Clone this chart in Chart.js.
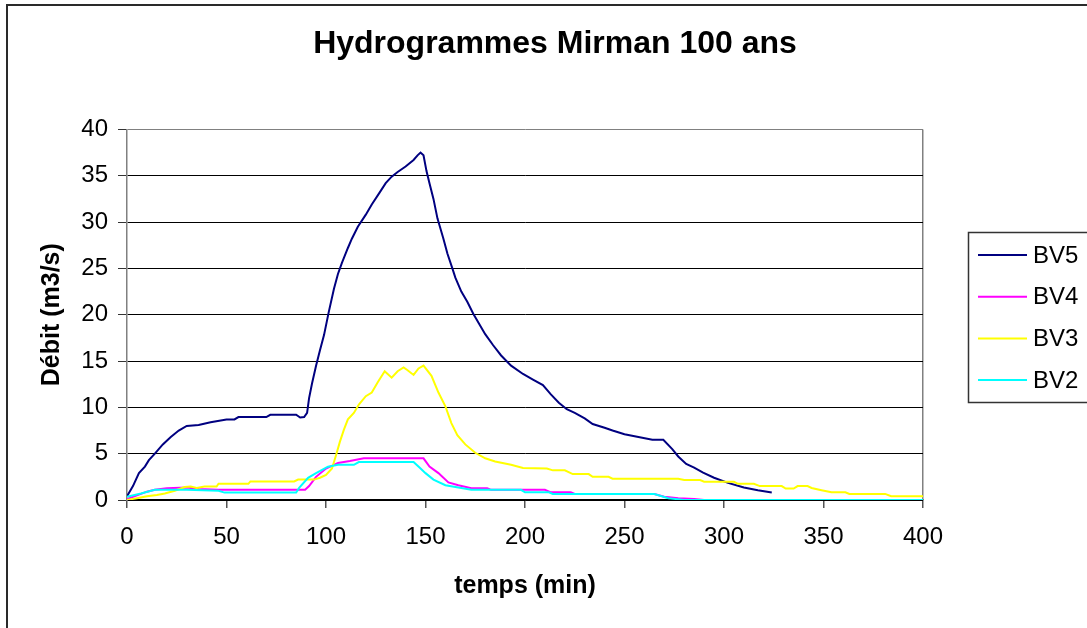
<!DOCTYPE html>
<html>
<head>
<meta charset="utf-8">
<script src="https://cdn.jsdelivr.net/npm/chart.js@4/dist/chart.umd.min.js"></script>
<style>
  html, body { margin: 0; padding: 0; background: #fff; }
  #wrap { width: 1087px; height: 628px; position: relative; }
</style>
</head>
<body>
<div id="wrap"><canvas id="hydro"></canvas></div>
<script>
// temps (min) et débits (m3/s)
const bv5T = [0, 3, 6, 9, 11, 14, 18, 22, 26, 30, 36, 42, 50, 54, 56, 70, 72, 85, 87, 89, 90.5, 91.5, 93, 95, 97, 99, 101.4, 104, 106, 108, 111, 113, 116, 120, 123, 127, 130, 133, 136, 140, 144, 146, 147.5, 149, 150.5, 152, 154, 156, 159, 161, 163.5, 165, 168, 171, 174, 177, 180, 184, 188, 193, 199, 204, 209, 213, 217, 221, 225, 230, 234, 240, 244, 250, 257, 264, 269.5, 274, 277, 281, 285, 289.5, 295, 302, 310, 317, 324];
const bv5Q = [0.4, 1.5, 2.9, 3.6, 4.3, 5.0, 6.0, 6.8, 7.5, 8.0, 8.1, 8.4, 8.7, 8.7, 8.95, 8.95, 9.2, 9.2, 8.9, 8.95, 9.4, 11.0, 12.6, 14.5, 16.2, 17.8, 20.3, 22.8, 24.4, 25.6, 27.2, 28.2, 29.5, 30.8, 31.9, 33.2, 34.2, 34.9, 35.4, 36.0, 36.7, 37.2, 37.5, 37.2, 35.5, 34.2, 32.5, 30.4, 28.2, 26.6, 25.0, 24.0, 22.5, 21.4, 20.1, 19.0, 17.9, 16.7, 15.6, 14.5, 13.6, 13.0, 12.4, 11.4, 10.5, 9.8, 9.4, 8.8, 8.2, 7.8, 7.5, 7.1, 6.8, 6.5, 6.5, 5.5, 4.7, 3.9, 3.5, 2.95, 2.4, 1.85, 1.35, 1.05, 0.8];

const bv4T = [0, 5, 10, 14, 20, 30, 36, 46, 89.5, 91.5, 95, 100, 106, 112, 119, 149, 152, 156.5, 161.5, 166.5, 173, 181, 183, 210, 213, 223, 225, 265, 270, 277, 285, 290, 400];
const bv4Q = [0.1, 0.5, 0.9, 1.1, 1.27, 1.35, 1.2, 1.1, 1.1, 1.5, 2.5, 3.4, 4.0, 4.2, 4.5, 4.5, 3.6, 2.9, 1.9, 1.6, 1.27, 1.27, 1.1, 1.1, 0.83, 0.83, 0.65, 0.65, 0.36, 0.2, 0.1, 0, 0];

const bv3T = [0, 5, 10, 15, 19, 24, 29, 32, 35, 39, 45, 46, 61, 62, 84, 86, 94, 97, 100, 103, 105, 107, 109, 111, 114, 116.5, 120, 123, 126, 129.5, 133, 136, 139, 141, 144, 146.5, 149, 153, 156.5, 160, 163, 166, 170, 175, 180, 185, 193, 199, 211, 214, 220, 224, 232, 234, 242, 244, 277, 280, 288, 290, 305, 307, 315, 318, 329, 331, 335, 337, 342, 344, 349, 354, 361, 363, 381, 384, 400];
const bv3Q = [0, 0.2, 0.4, 0.55, 0.7, 1.0, 1.4, 1.45, 1.3, 1.45, 1.45, 1.75, 1.75, 2.0, 2.0, 2.2, 2.2, 2.4, 2.7, 3.4, 4.8, 6.3, 7.6, 8.7, 9.4, 10.3, 11.2, 11.6, 12.7, 13.9, 13.2, 13.9, 14.3, 14.0, 13.5, 14.2, 14.5, 13.4, 11.6, 10.1, 8.3, 7.0, 6.0, 5.1, 4.5, 4.15, 3.8, 3.45, 3.4, 3.2, 3.2, 2.8, 2.8, 2.5, 2.5, 2.3, 2.3, 2.15, 2.15, 1.97, 1.97, 1.75, 1.75, 1.5, 1.5, 1.24, 1.24, 1.5, 1.5, 1.3, 1.06, 0.84, 0.84, 0.66, 0.66, 0.4, 0.4];

const bv2T = [0, 7, 14, 30, 46, 49, 85, 86.5, 91, 95, 101, 106, 114, 116.5, 144, 147, 150, 154, 160, 166.5, 173, 198, 200, 212, 214, 265, 272, 280, 400];
const bv2Q = [0.35, 0.7, 1.1, 1.1, 1.0, 0.8, 0.8, 1.3, 2.4, 2.9, 3.6, 3.8, 3.8, 4.1, 4.1, 3.5, 2.9, 2.2, 1.6, 1.35, 1.1, 1.1, 0.83, 0.83, 0.65, 0.65, 0.2, 0, 0];

const seriesNames = ['BV5', 'BV4', 'BV3', 'BV2'];
const seriesColors = ['#000080', '#FF00FF', '#FFFF00', '#00FFFF'];

function toPoints(ts, qs) {
    return ts.map((t, i) => ({ x: t, y: qs[i] }));
}

const allSeries = [[bv5T, bv5Q], [bv4T, bv4Q], [bv3T, bv3Q], [bv2T, bv2Q]];

const datasets = allSeries.map((s, i) => ({
    label: seriesNames[i],
    data: toPoints(s[0], s[1]),
    borderColor: seriesColors[i],
    backgroundColor: seriesColors[i],
    borderWidth: 2,
    pointRadius: 0,
    tension: 0,
    fill: false,
    order: 3 - i   // BV2 dessiné au-dessus, comme dans Excel
}));

// cadre extérieur + légende encadrée à droite
const decorPlugin = {
    id: 'decor',
    afterDraw(chart) {
        const ctx = chart.ctx;
        ctx.save();
        ctx.strokeStyle = '#2a2a2a';
        ctx.lineWidth = 2;
        ctx.beginPath();
        ctx.moveTo(7, 628);
        ctx.lineTo(7, 5);
        ctx.lineTo(1087, 5);
        ctx.stroke();

        // légende
        ctx.lineWidth = 1.5;
        ctx.strokeStyle = '#333';
        ctx.strokeRect(968.5, 232.5, 140, 170);
        ctx.font = '24px "Liberation Sans", Arial, sans-serif';
        ctx.textBaseline = 'middle';
        ctx.fillStyle = '#000';
        chart.data.datasets.forEach((ds, i) => {
            const y = 255 + i * 41.7;
            ctx.strokeStyle = ds.borderColor;
            ctx.lineWidth = 2;
            ctx.beginPath();
            ctx.moveTo(978, y);
            ctx.lineTo(1027, y);
            ctx.stroke();
            ctx.fillText(ds.label, 1033, y + 1);
        });
        ctx.restore();
    }
};

const ctx = document.getElementById('hydro').getContext('2d');
new Chart(ctx, {
    type: 'line',
    data: { datasets: datasets },
    plugins: [decorPlugin],
    options: {
        responsive: true,
        maintainAspectRatio: false,
        animation: false,
        layout: { padding: { left: 23, right: 0, top: 0, bottom: 0 } },
        plugins: {
            legend: { display: false },
            tooltip: { enabled: false },
            title: {
                display: true,
                text: 'Hydrogrammes Mirman 100 ans',
                color: '#000',
                font: { family: '"Liberation Sans", Arial, sans-serif', size: 32, weight: 'bold' },
                padding: { top: 25, bottom: 66 }
            }
        },
        scales: {
            x: {
                type: 'linear',
                min: 0,
                max: 400,
                ticks: {
                    stepSize: 50,
                    color: '#000',
                    padding: 15,
                    font: { family: '"Liberation Sans", Arial, sans-serif', size: 24 }
                },
                grid: {
                    color: c => (c.tick && c.tick.value === 400) ? '#808080' : 'rgba(0,0,0,0)',
                    tickColor: '#555',
                    tickLength: 8,
                    lineWidth: 1.5
                },
                border: { color: '#000', width: 1.5 },
                title: {
                    display: true,
                    text: 'temps (min)',
                    color: '#000',
                    font: { family: '"Liberation Sans", Arial, sans-serif', size: 25, weight: 'bold' },
                    padding: { top: 0, bottom: 27 }
                },
                afterFit: s => { s.height = 128; }
            },
            y: {
                min: 0,
                max: 40,
                ticks: {
                    stepSize: 5,
                    color: '#000',
                    padding: 10,
                    font: { family: '"Liberation Sans", Arial, sans-serif', size: 24 }
                },
                grid: {
                    color: c => (c.tick && c.tick.value === 40) ? '#808080' : '#000',
                    tickColor: '#333',
                    tickLength: 9,
                    lineWidth: 1
                },
                border: { color: '#808080', width: 1.5 },
                title: {
                    display: true,
                    text: 'Débit (m3/s)',
                    color: '#000',
                    font: { family: '"Liberation Sans", Arial, sans-serif', size: 25, weight: 'bold' },
                    padding: { top: 14, bottom: 0 }
                },
                afterFit: s => { s.width = 104; }
            },
            // axe vide à droite pour réserver la place de la légende
            yRight: {
                position: 'right',
                display: true,
                ticks: { display: false },
                grid: { display: false },
                border: { display: false },
                afterFit: s => { s.width = 164; }
            }
        }
    }
});
</script>
</body>
</html>
